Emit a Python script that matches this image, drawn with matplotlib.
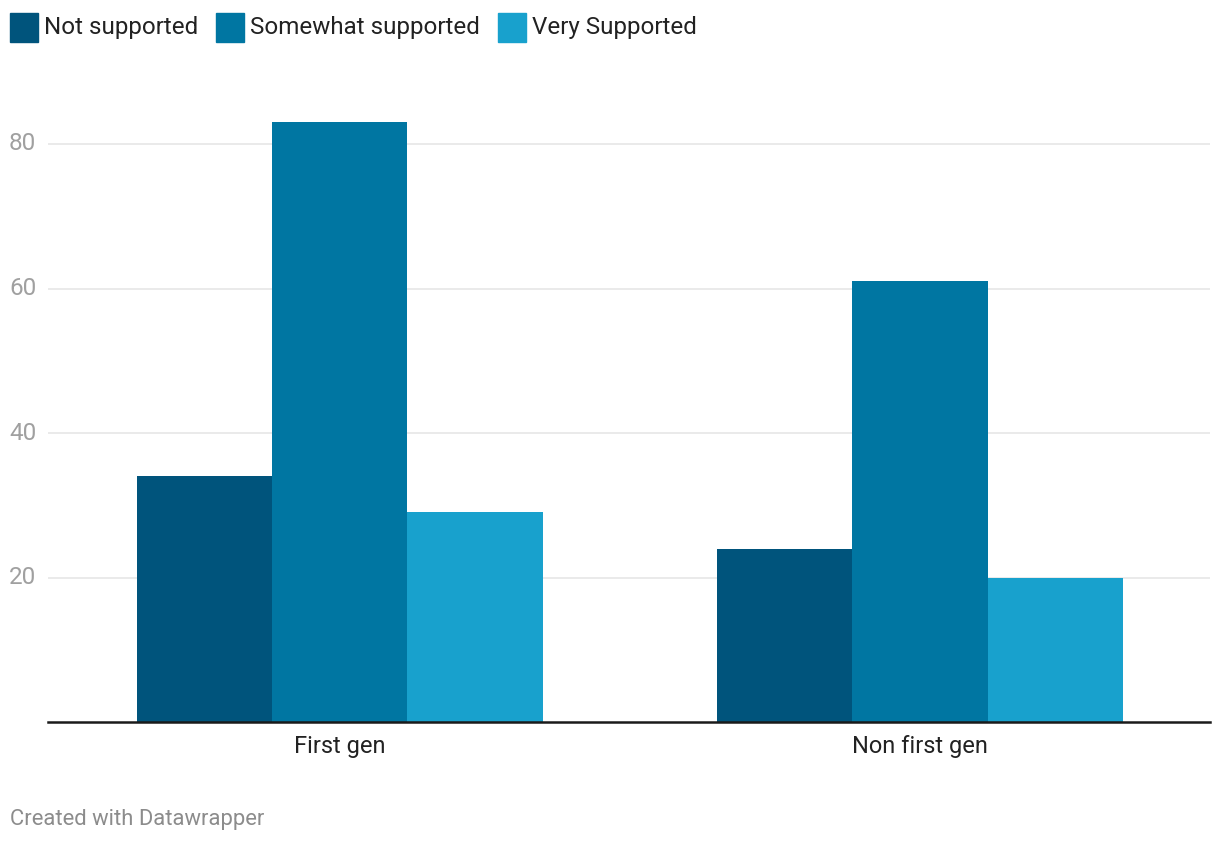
import matplotlib.pyplot as plt
import matplotlib.transforms as mtransforms
from matplotlib.patches import Rectangle
import numpy as np

plt.rcParams['font.family'] = ['Roboto', 'DejaVu Sans']

categories = ["First gen", "Non first gen"]
series = ["Not supported", "Somewhat supported", "Very Supported"]
not_supported = [34, 24]
somewhat_supported = [83, 61]
very_supported = [29, 20]
colors = ["#00547c", "#0076a2", "#18a1cd"]
yticks = [20, 40, 60, 80]

W, H = 1220, 844
fig = plt.figure(figsize=(W / 100, H / 100), dpi=100)
ymax = 85
top_px = 722 - ymax * 7.225
ax = fig.add_axes([48 / W, 1 - 722 / H, (1210 - 48) / W, (722 - top_px) / H])

x = np.arange(len(categories))
width = 0.233
for i, (vals, c) in enumerate(zip([not_supported, somewhat_supported, very_supported], colors)):
    ax.bar(x + (i - 1) * width, vals, width, color=c, zorder=2, linewidth=0)

ax.set_xlim(-0.503, 1.5)
ax.set_ylim(0, ymax)
for s in ["top", "right", "left"]:
    ax.spines[s].set_visible(False)
ax.spines["bottom"].set_color("#1a1a1a")
ax.spines["bottom"].set_linewidth(1.8)
ax.spines["bottom"].set_zorder(3)

for t in yticks:
    ax.axhline(t, color="#e6e6e6", linewidth=1.2, zorder=1)
ax.set_yticks([])
trans = mtransforms.blended_transform_factory(fig.transFigure, ax.transData)
for t in yticks:
    ax.text(9 / W, t, str(t), transform=trans, ha="left", va="center",
            fontsize=17.5, color="#a0a0a0")

ax.set_xticks(x)
ax.set_xticklabels(categories, fontsize=17, color="#222222")
ax.tick_params(axis="x", length=0, pad=9)

# legend
lx = 10
for name, c in zip(series, colors):
    fig.patches.append(Rectangle((lx / W, 1 - 42 / H), 28 / W, 29 / H,
                                 transform=fig.transFigure, color=c))
    t = fig.text((lx + 34) / W, 1 - 27.5 / H, name, ha="left", va="center",
                 fontsize=17.4, color="#222222")
    fig.canvas.draw()
    bb = t.get_window_extent()
    lx = bb.x1 + 18

fig.text(10 / W, 1 - 820 / H, "Created with Datawrapper", ha="left", va="center",
         fontsize=15.8, color="#8c8c8c")

fig.savefig("out.png", dpi=100)
